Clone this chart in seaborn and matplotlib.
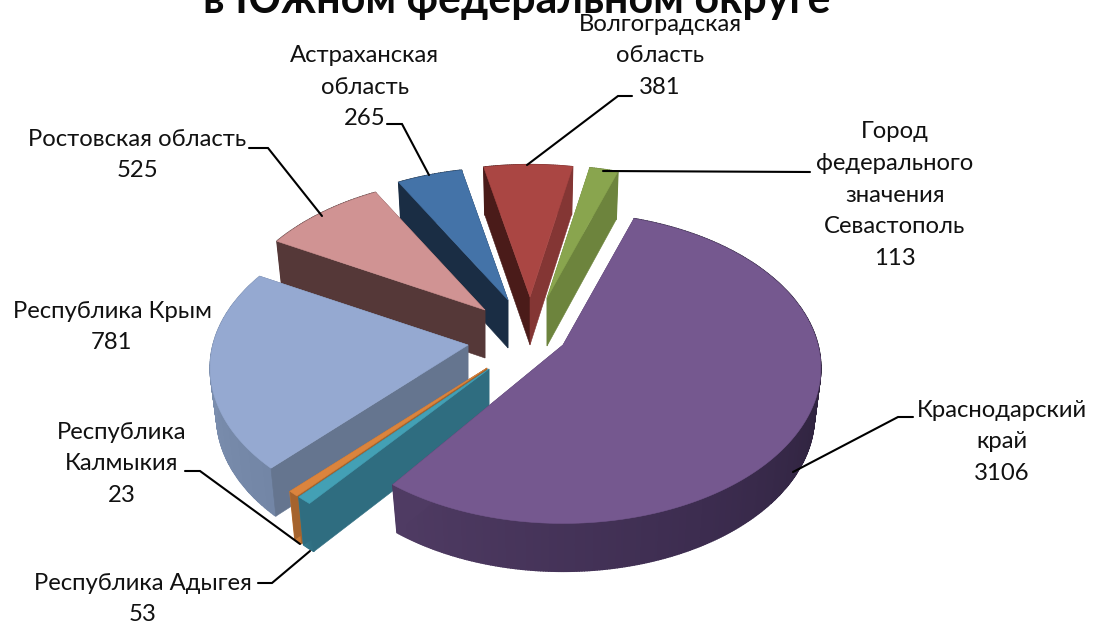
import numpy as np
import matplotlib
matplotlib.use('Agg')
import matplotlib.pyplot as plt
from matplotlib.patches import Polygon
import seaborn as sns

title = 'в Южном федеральном округе'
regions = ['Краснодарский\nкрай', 'Республика Адыгея', 'Республика\nКалмыкия', 'Республика Крым',
           'Ростовская область', 'Астраханская\nобласть', 'Волгоградская\nобласть',
           'Город\nфедерального\nзначения\nСевастополь']
values = [3106, 53, 23, 781, 525, 265, 381, 113]

# colours per slice: top face, cut face (near), cut face (other side), rim gradient
top_colors = ['#75588f', '#43a0b5', '#db843d', '#95a9d1', '#d09393', '#4473a8', '#aa4643', '#89a54e']
cut_colors = ['#4f3b63', '#2f6d80', '#a5632d', '#65758f', '#553838', '#1a2d44', '#4a1b19', '#6d843d']
alt_colors = ['#4f3b63', '#2f6d80', '#a5632d', '#65758f', '#553838', '#1a2d44', '#843634', '#6d843d']
rim_colors = [['#2e2440', '#2a2038', '#3c2c4f', '#4f3b63'], ['#2f6d80', '#357a8d'], ['#c87a38', '#c87a38'],
              ['#7386a6', '#8295b5'], ['#553838', '#553838'], ['#1a2d44', '#1a2d44'],
              ['#4a1b19', '#843634'], ['#6d843d', '#6d843d']]

# layout: exploded apex of each slice in pixels and the view of the 3D pie
apexes = [(563, 345), (489, 369), (487, 368), (468, 345), (485, 310), (508, 300), (530, 297), (547, 298)]
draw_order = [7, 6, 5, 4, 3, 2, 1, 0]
RX, RY, PERSP, DEPTH, SHRINK = 255, 152, 0.148, 48, 0.975
START = 18
# perspective warp of the true slice angles to the angles seen on screen
WARP_IN = [18, 231.1, 234.7, 236.3, 289.9, 325.9, 344.1, 370.2, 378]
WARP_OUT = [18.5, 216, 221.5, 223.6, 299, 331, 348, 371, 378.5]
# the thin Adygea slice starts a little after the Krasnodar edge on screen
start_trim = [0, 2.5, 0, 0, 0, 0, 0, 0]

# label centres and leader lines in pixels
label_pos = [(1002, 442), (143, 599), (122, 464), (112, 327), (137, 155), (365, 87), (660, 56), (895, 195)]
leaders = [[(913, 417), (898, 417), (793, 472)], [(258, 583), (272, 583), (310, 551)],
           [(185, 471), (200, 471), (300, 544)], None,
           [(249, 148), (268, 148), (322, 216)], [(387, 124), (402, 124), (429, 175)],
           [(632, 96), (618, 96), (527, 165)], [(810, 172), (603, 171)]]


def project(ax_, ay, theta):
    t = np.radians(theta)
    u, v = np.sin(t), np.cos(t)
    s = 1 / (1 + PERSP * v)
    return ax_ + RX * u * s, ay - RY * v * s


def main():
    sns.set_theme(style='white')
    plt.rcParams['font.family'] = ['Lato', 'Open Sans', 'DejaVu Sans']

    fig = plt.figure(figsize=(10.94, 6.24), dpi=100)
    ax = fig.add_axes([0, 0, 1, 1])
    ax.set_xlim(0, 1094)
    ax.set_ylim(624, 0)
    ax.axis('off')

    edges = START + np.concatenate([[0], np.cumsum(values)]) / np.sum(values) * 360
    edges = np.interp(edges, WARP_IN, WARP_OUT)

    for i in draw_order:
        ax_, ay = apexes[i]
        th = np.linspace(edges[i] + start_trim[i], edges[i + 1], max(int(edges[i + 1] - edges[i]) * 2, 6))
        x, y = project(ax_, ay, th)
        xb = ax_ + (x - ax_) * SHRINK
        yb = y + DEPTH

        # rim as thin strips so the shading runs along the arc
        shades = sns.blend_palette(rim_colors[i], len(th) - 1)
        for j in range(len(th) - 1):
            quad = [(x[j], y[j]), (x[j + 1], y[j + 1]), (xb[j + 1], yb[j + 1]), (xb[j], yb[j])]
            ax.add_patch(Polygon(quad, closed=True, fc=shades[j], ec=shades[j], lw=1.0, zorder=1))

        # cut faces, the lower one last
        first = [(x[0], y[0]), (ax_, ay), (ax_, ay + DEPTH), (xb[0], yb[0])]
        last = [(x[-1], y[-1]), (ax_, ay), (ax_, ay + DEPTH), (xb[-1], yb[-1])]
        faces = [(first, cut_colors[i]), (last, alt_colors[i])]
        if y[0] < y[-1]:
            faces = [(first, alt_colors[i]), (last, cut_colors[i])]
        for quad, col in faces:
            ax.add_patch(Polygon(quad, closed=True, fc=col, ec=col, lw=0.4, zorder=1))

        pts = [(ax_, ay)] + list(zip(x, y))
        ax.add_patch(Polygon(pts, closed=True, fc=top_colors[i], ec=top_colors[i], lw=0.4, zorder=1))

    for line in leaders:
        if line is not None:
            ax.plot(*zip(*line), color='black', lw=1.5, zorder=3, solid_joinstyle='miter')

    for name, val, (cx, cy) in zip(regions, values, label_pos):
        ax.text(cx, cy, f'{name}\n{val}', ha='center', va='center', fontsize=17.2,
                linespacing=1.62, color='#111111', zorder=4)

    ax.text(517, 13, title, ha='center', va='baseline', fontsize=31, fontweight='bold',
            color='#0a0a0a', zorder=4)

    fig.savefig('out.png', dpi=100)


if __name__ == '__main__':
    main()
